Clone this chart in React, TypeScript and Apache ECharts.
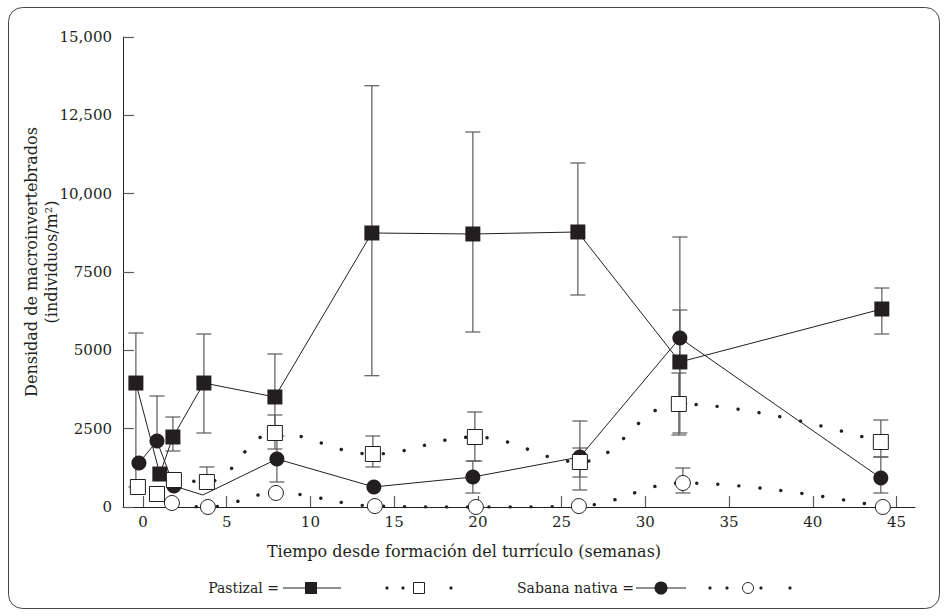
import React, { useEffect, useRef } from "react";
import * as echarts from "echarts";

const FONT = "'DejaVu Serif', serif";
const INK = "#231f20";
const BAR = "#5a5a5a";

const xTickValues = [0, 5, 10, 15, 20, 25, 30, 35, 40, 45];
const yTickValues = [0, 2500, 5000, 7500, 10000, 12500, 15000];
const yTickLabels = ["0", "2500", "5000", "7500", "10,000", "12,500", "15,000"];

// Pastizal (solid line, filled squares)
const pastSolidWeeks = [-0.42, 1.01, 1.79, 3.64, 7.88, 13.67, 19.7, 25.97, 32.06, 44.12];
const pastSolidValues = [3957, 1053, 2234, 3957, 3511, 8745, 8713, 8777, 4628, 6319];
const pastSolidLow = [640, 1053, 1787, 2362, 2139, 4190, 5585, 6766, 3300, 5521];
const pastSolidHigh = [5553, 1053, 2872, 5521, 4883, 13446, 11968, 10979, 6287, 6989];

// Pastizal (dotted line, open squares)
const pastDotWeeks = [-0.3, 0.84, 1.85, 3.82, 7.88, 13.73, 19.82, 26.09, 32.0, 44.06];
const pastDotValues = [638, 415, 862, 798, 2362, 1691, 2234, 1436, 3287, 2074];
const pastDotLow = [638, 415, 862, 798, 1851, 1277, 1468, 957, 2298, 1596];
const pastDotHigh = [638, 415, 862, 1277, 2936, 2266, 3032, 1883, 4277, 2777];

// Sabana nativa (solid line, filled circles)
const sabSolidWeeks = [-0.24, 0.84, 1.85, 3.58, 8.0, 13.79, 19.7, 26.09, 32.06, 44.06];
const sabSolidValues = [1404, 2106, 670, 383, 1532, 640, 957, 1596, 5394, 925];
const sabSolidLow = [1404, 2106, 670, 383, 798, 640, 447, 543, 2362, 447];
const sabSolidHigh = [1404, 3543, 670, 383, 2266, 640, 1468, 2745, 8617, 1596];

// Sabana nativa (dotted line, open circles)
const sabDotWeeks = [0.84, 1.73, 3.88, 7.94, 13.85, 19.88, 26.03, 32.24, 44.18];
const sabDotValues = [415, 128, 0, 447, 30, 0, 30, 766, 0];
const sabDotLow = [415, 128, 0, 447, 30, 0, 30, 447, 0];
const sabDotHigh = [415, 128, 0, 447, 30, 0, 30, 1245, 0];

const pairs = (xs: number[], ys: number[]) => xs.map((x, i) => [x, ys[i]]);

function errorSeries(weeks: number[], values: number[], low: number[], high: number[]) {
  return {
    type: "custom",
    silent: true,
    clip: false,
    encode: { x: 0, y: [1, 2, 3] },
    data: weeks.map((w, i) => [w, values[i], low[i], high[i]]),
    renderItem: (_params: any, api: any) => {
      const x = api.value(0);
      const v = api.value(1);
      const lo = api.value(2);
      const hi = api.value(3);
      if (!(hi > lo)) return { type: "group", children: [] };
      const top = api.coord([x, hi]);
      const bot = api.coord([x, lo]);
      const hw = 7.5;
      const style = { stroke: BAR, lineWidth: 1.2, fill: null };
      const children: any[] = [
        { type: "line", shape: { x1: top[0], y1: top[1], x2: bot[0], y2: bot[1] }, style },
      ];
      if (hi > v)
        children.push({ type: "line", shape: { x1: top[0] - hw, y1: top[1], x2: top[0] + hw, y2: top[1] }, style });
      if (lo < v)
        children.push({ type: "line", shape: { x1: bot[0] - hw, y1: bot[1], x2: bot[0] + hw, y2: bot[1] }, style });
      return { type: "group", children };
    },
  };
}

const dotted = { color: INK, width: 3.4, type: [0.1, 21], cap: "round" };

function legendItems() {
  const y = 588;
  const font = `14px ${FONT}`;
  const els: any[] = [];
  els.push({ type: "text", x: 279, y, style: { text: "Pastizal =", font, fill: INK, textAlign: "right", textVerticalAlign: "middle" } });
  els.push({ type: "line", shape: { x1: 283, y1: y, x2: 341, y2: y }, style: { stroke: INK, lineWidth: 1 } });
  els.push({ type: "rect", shape: { x: 305, y: y - 6, width: 12, height: 12 }, style: { fill: INK } });
  [387, 403, 451].forEach((cx) => els.push({ type: "circle", shape: { cx, cy: y, r: 1.6 }, style: { fill: INK } }));
  els.push({ type: "rect", shape: { x: 413.5, y: y - 5.5, width: 11, height: 11 }, style: { fill: "#fff", stroke: INK, lineWidth: 1 } });

  els.push({ type: "text", x: 517, y, style: { text: "Sabana nativa =", font, fill: INK, textAlign: "left", textVerticalAlign: "middle" } });
  els.push({ type: "line", shape: { x1: 636, y1: y, x2: 686, y2: y }, style: { stroke: INK, lineWidth: 1 } });
  els.push({ type: "circle", shape: { cx: 661, cy: y, r: 6.5 }, style: { fill: INK } });
  [710, 727, 761, 790].forEach((cx) => els.push({ type: "circle", shape: { cx, cy: y, r: 1.6 }, style: { fill: INK } }));
  els.push({ type: "circle", shape: { cx: 748, cy: y, r: 5.5 }, style: { fill: "#fff", stroke: INK, lineWidth: 1 } });
  return els;
}

export default function App() {
  const ref = useRef<HTMLDivElement>(null);
  useEffect(() => {
    const chart = echarts.init(ref.current!, null, { renderer: "svg" });
    const labelStyle = { fontFamily: FONT, fontSize: 15, color: INK };
    chart.setOption({
      animation: false,
      backgroundColor: "#fff",
      grid: { left: 123, right: 33, top: 37, bottom: 109, containLabel: false },
      xAxis: {
        type: "value",
        min: -1.19,
        max: 46.1,
        splitLine: { show: false },
        axisLine: { show: true, onZero: false, lineStyle: { color: INK, width: 1 } },
        axisTick: { show: true, inside: true, length: 11, customValues: xTickValues, lineStyle: { color: BAR, width: 1.2 } },
        axisLabel: { ...labelStyle, margin: 7, customValues: xTickValues, formatter: (v: number) => String(v) },
      },
      yAxis: {
        type: "value",
        min: 0,
        max: 15000,
        interval: 2500,
        splitLine: { show: false },
        axisLine: { show: true, onZero: false, lineStyle: { color: INK, width: 1 } },
        axisTick: { show: true, inside: true, length: 11, lineStyle: { color: BAR, width: 1.2 } },
        axisLabel: {
          ...labelStyle,
          margin: 11,
          formatter: (v: number) => {
            const i = yTickValues.indexOf(v);
            return i >= 0 ? yTickLabels[i] : "";
          },
        },
      },
      series: [
        errorSeries(pastSolidWeeks, pastSolidValues, pastSolidLow, pastSolidHigh),
        errorSeries(pastDotWeeks, pastDotValues, pastDotLow, pastDotHigh),
        errorSeries(sabSolidWeeks, sabSolidValues, sabSolidLow, sabSolidHigh),
        errorSeries(sabDotWeeks, sabDotValues, sabDotLow, sabDotHigh),
        {
          name: "Sabana nativa",
          type: "line",
          silent: true,
          data: pairs(sabSolidWeeks, sabSolidValues).map((p, i) =>
            i === 3 ? { value: p, symbol: "none" } : p
          ),
          symbol: "circle",
          symbolSize: 15,
          showAllSymbol: true,
          itemStyle: { color: INK },
          lineStyle: { color: INK, width: 1 },
          emphasis: { disabled: true },
        },
        {
          name: "Pastizal",
          type: "line",
          silent: true,
          data: pairs(pastSolidWeeks, pastSolidValues),
          symbol: "rect",
          symbolSize: 15,
          showAllSymbol: true,
          itemStyle: { color: INK },
          lineStyle: { color: INK, width: 1 },
          emphasis: { disabled: true },
        },
        {
          name: "Sabana nativa (punteada)",
          type: "line",
          silent: true,
          smooth: 0.4,
          data: pairs(sabDotWeeks, sabDotValues),
          symbol: "circle",
          symbolSize: 15,
          showAllSymbol: true,
          itemStyle: { color: "#fff", borderColor: INK, borderWidth: 1 },
          lineStyle: dotted,
          emphasis: { disabled: true },
        },
        {
          name: "Pastizal (punteada)",
          type: "line",
          silent: true,
          smooth: 0.4,
          data: pairs(pastDotWeeks, pastDotValues),
          symbol: "rect",
          symbolSize: 15,
          showAllSymbol: true,
          itemStyle: { color: "#fff", borderColor: INK, borderWidth: 1 },
          lineStyle: dotted,
          emphasis: { disabled: true },
        },
      ],
      graphic: [
        {
          type: "rect",
          silent: true,
          shape: { x: 8.5, y: 7.5, width: 931, height: 601, r: 14 },
          style: { fill: "none", stroke: "#444", lineWidth: 1 },
        },
        {
          type: "text",
          x: 31,
          y: 262,
          rotation: Math.PI / 2,
          style: { text: "Densidad de macroinvertebrados", font: `16px ${FONT}`, fill: INK, textAlign: "center", textVerticalAlign: "middle" },
        },
        {
          type: "text",
          x: 51,
          y: 262,
          rotation: Math.PI / 2,
          style: { text: "(individuos/m²)", font: `16px ${FONT}`, fill: INK, textAlign: "center", textVerticalAlign: "middle" },
        },
        {
          type: "text",
          x: 464,
          y: 551,
          style: { text: "Tiempo desde formación del turrículo (semanas)", font: `16px ${FONT}`, fill: INK, textAlign: "center", textVerticalAlign: "middle" },
        },
        ...legendItems(),
      ],
    });
    return () => chart.dispose();
  }, []);
  return <div ref={ref} style={{ position: "absolute", left: 0, top: 0, width: 948, height: 616 }} />;
}
